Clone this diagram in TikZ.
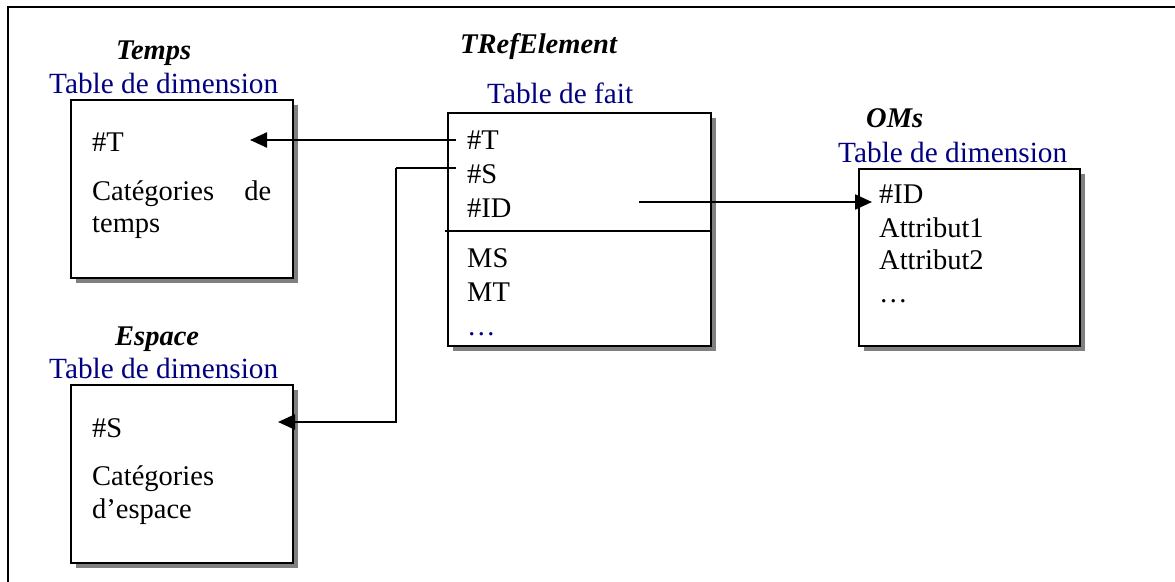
\documentclass[tikz,border=0pt]{standalone}
\usepackage{fontspec}
\setmainfont{Liberation Serif}
\usetikzlibrary{arrows.meta,shadows}
\definecolor{navyblue}{RGB}{0,0,128}
\definecolor{shadowgray}{RGB}{128,128,128}
\begin{document}
\begin{tikzpicture}[x=1pt,y=-1pt,
  tbl/.style={draw=black,line width=2.4pt,fill=white,inner sep=0pt,anchor=north west,
    drop shadow={shadow xshift=5pt,shadow yshift=-5pt,fill=shadowgray,opacity=1}},
  txt/.style={anchor=base west,inner sep=0pt,font=\fontsize{28.5}{32}\selectfont},
  ttl/.style={anchor=base west,inner sep=0pt,font=\fontsize{28.5}{32}\selectfont\bfseries\itshape},
  lbl/.style={anchor=base west,inner sep=0pt,text=navyblue,font=\fontsize{29.3}{34}\selectfont},
  conn/.style={line width=2.4pt},
  tip/.style={-{Triangle[length=17pt,width=15pt]}}
]
\useasboundingbox (0,0) rectangle (1175,581);
% outer frame
\draw[line width=2.4pt] (8,600) -- (8,7) -- (1190,7);

% boxes
\node[tbl,minimum width=222pt,minimum height=178pt] (temps) at (70,99) {};
\node[tbl,minimum width=222pt,minimum height=178pt] (espace) at (70,384) {};
\node[tbl,minimum width=263pt,minimum height=233pt] (fait) at (447,112) {};
\node[tbl,minimum width=221pt,minimum height=177pt] (oms) at (858,168) {};
\draw[line width=1.8pt] ([xshift=-2pt]fait.west |- 0,231) coordinate (divL) -- (fait.east |- divL) coordinate (divR);

% titles
\node[ttl] (tTemps) at (116,59) {Temps};
\node[lbl] (lTemps) at (49,93) {Table de dimension};
\node[ttl] (tEsp) at (115,345) {Espace};
\node[lbl] (lEsp) at (49,378) {Table de dimension};
\node[ttl] (tRef) at (460,53) {TRefElement};
\node[lbl] (lFait) at (487,103) {Table de fait};
\node[ttl] (tOMs) at (866,127) {OMs};
\node[lbl] (lOMs) at (838,162) {Table de dimension};

% Temps contents
\node[txt] (tmT) at (92,151) {\#T};
\node[txt] (tmCat) at (92,200) {\parbox[t]{179pt}{\fontsize{28.5}{32}\selectfont Catégories\hfill de\\temps}};
% Espace contents
\node[txt] (esS) at (92,437) {\#S};
\node[txt] (esCat) at (92,485) {\parbox[t]{179pt}{\fontsize{28.5}{33}\selectfont Catégories\\d’espace}};
% fact contents
\node[txt] (fT) at (467,149) {\#T};
\node[txt] (fS) at (467,183) {\#S};
\node[txt] (fID) at (467,217) {\#ID};
\node[txt] (fMS) at (467,267) {MS};
\node[txt] (fMT) at (467,301) {MT};
\node[txt,text=navyblue] (fDots) at (467,335) {…};
% OMs contents
\node[txt] (oID) at (879,203) {\#ID};
\node[txt] (oA1) at (879,237) {Attribut1};
\node[txt] (oA2) at (879,269) {Attribut2};
\node[txt] (oDots) at (879,302) {…};

% connector end points
\coordinate (cTa) at (456,140);
\coordinate (cTb) at (250,140);
\coordinate (cSa) at (456,168);
\coordinate (cSm) at (396,168);
\coordinate (cSn) at (396,422);
\coordinate (cSb) at (278,422);
\coordinate (cIa) at (639,202);
\coordinate (cIb) at (872,202);

\draw[conn,tip] (cTa) -- (cTb);
\draw[line width=1.5pt] (cSa) -- (cSm);
\draw[conn,tip] (cSm) -- (cSn) -- (cSb);
\draw[conn,tip] (cIa) -- (cIb);
\end{tikzpicture}
\end{document}
